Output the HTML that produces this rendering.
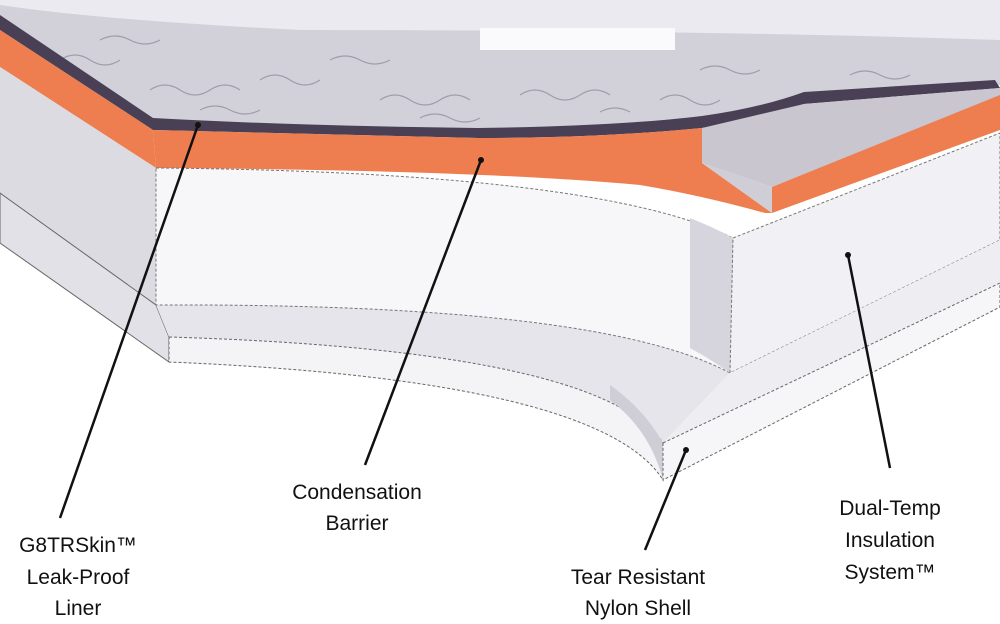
<!DOCTYPE html>
<html><head><meta charset="utf-8"><style>
html,body{margin:0;padding:0;background:#fff;}
svg{display:block;}
text{font-family:"Liberation Sans",sans-serif;font-size:21px;fill:#111;}
</style></head><body>
<svg width="1000" height="624" viewBox="0 0 1000 624" xmlns="http://www.w3.org/2000/svg">
<rect width="1000" height="624" fill="#fff"/>
<!-- top textured surface -->
<path d="M0,0 H1000 V85 L804,100 Q760,118 702,123 Q600,134 478,132 L153,122 L0,20 Z" fill="#d2d0d9"/>
<path d="M0,0 H1000 V40 Q700,30 300,30 Q100,20 0,5 Z" fill="#ebeaf0"/>
<rect x="480" y="28" width="195" height="22" fill="#fafafc"/>
<g stroke="#8f8c9a" stroke-width="1.2" fill="none" opacity="0.75">
<path d="M60,60 q15,-10 30,0 q15,10 30,0 M150,90 q15,-10 30,0 q15,10 30,0 q15,-10 30,0 M260,80 q15,-10 30,0 q15,10 30,0 M380,100 q15,-10 30,0 q15,10 30,0 q15,-10 30,0 M520,95 q15,-10 30,0 q15,10 30,0 q15,-10 30,0 M660,100 q15,-10 30,0 q15,10 30,0 M200,110 q15,-8 30,0 q15,8 30,0 M420,118 q15,-8 30,0 q15,8 30,0 M600,112 q15,-8 30,0 M850,75 q15,-8 30,0 q15,8 30,0 M100,40 q15,-8 30,0 q15,8 30,0 M330,60 q15,-8 30,0 q15,8 30,0 M700,70 q15,-8 30,0 q15,8 30,0"/>
</g>
<!-- purple liner -->
<path d="M0,15 L153,118 Q300,126 478,128 Q620,126 702,116 Q760,108 804,92 L995,80 L1000,88 L804,104 Q760,120 702,128 Q600,138 478,138 L153,130 L0,30 Z" fill="#4a4055"/>
<!-- orange left -->
<path d="M0,30 L153,130 L156,168 L0,67 Z" fill="#ee7d4f"/>
<!-- orange front -->
<path d="M153,130 L478,138 Q600,138 702,128 L702,163 L772,213 L765,213 Q700,195 640,185 Q478,170 156,168 Z" fill="#ee7d4f"/>
<path d="M702,163 L772,187 L772,213 Z" fill="#cfcdd6"/>
<!-- orange right -->
<path d="M702,128 L804,104 L1000,88 L1000,97 L772,187 L702,163 Z" fill="#c9c6d0"/>
<path d="M772,187 L995,97 L1000,95 V130 L772,213 Z" fill="#ee7d4f"/>
<!-- foam left face -->
<path d="M0,67 L156,168 L156,305 L0,193 Z" fill="#dcdbe2"/>
<!-- shell left -->
<path d="M0,193 L156,305 L169,337 L169,362 L0,243 Z" fill="#e2e1e7" stroke="#666" stroke-width="1"/>
<!-- shell ledge (top of shell) -->
<path d="M156,305 Q600,300 730,373 L663,443 Q600,350 169,337 Z" fill="#e6e5ec"/>
<!-- shell front -->
<path d="M169,337 Q600,350 663,443 L663,480 Q600,380 169,362 Z" fill="#f4f4f7" stroke="#666" stroke-width="1" stroke-dasharray="3,2"/>
<path d="M610,400 Q650,430 663,480 L663,443 Q645,410 610,385 Z" fill="#cfcdd6"/>
<!-- foam front -->
<path d="M156,168 Q600,172 733,238 L730,373 Q600,303 156,305 Z" fill="#f7f7fa" stroke="#777" stroke-width="1" stroke-dasharray="3,2"/>
<path d="M690,218 Q715,228 733,238 L730,373 Q712,360 690,348 Z" fill="#d6d5dd"/>
<!-- foam right -->
<path d="M733,238 L1000,133 V240 L730,373 Z" fill="#f1f0f4" stroke="#777" stroke-width="1" stroke-dasharray="3,2"/>
<!-- shell right -->
<path d="M730,373 L1000,240 V283 L663,443 Z" fill="#eeeef2"/>
<path d="M663,443 L1000,283 V307 L663,480 Z" fill="#f6f6f8" stroke="#666" stroke-width="1" stroke-dasharray="3,2"/>
<!-- leaders -->
<g stroke="#111" stroke-width="2.5" fill="none">
<line x1="198" y1="125" x2="60" y2="518"/>
<line x1="481" y1="160" x2="365" y2="465"/>
<line x1="848" y1="255" x2="890" y2="468"/>
<line x1="686" y1="450" x2="645" y2="550"/>
</g>
<g fill="#111"><circle cx="198" cy="125" r="3"/><circle cx="481" cy="160" r="3"/><circle cx="848" cy="255" r="3"/><circle cx="686" cy="450" r="3"/></g>
<g text-anchor="middle">
<text x="78" y="552">G8TRSkin™</text>
<text x="78" y="584">Leak-Proof</text>
<text x="78" y="615">Liner</text>
<text x="357" y="499">Condensation</text>
<text x="357" y="530">Barrier</text>
<text x="638" y="584">Tear Resistant</text>
<text x="638" y="615">Nylon Shell</text>
<text x="890" y="515">Dual-Temp</text>
<text x="890" y="547">Insulation</text>
<text x="890" y="579">System™</text>
</g>
</svg>
</body></html>
